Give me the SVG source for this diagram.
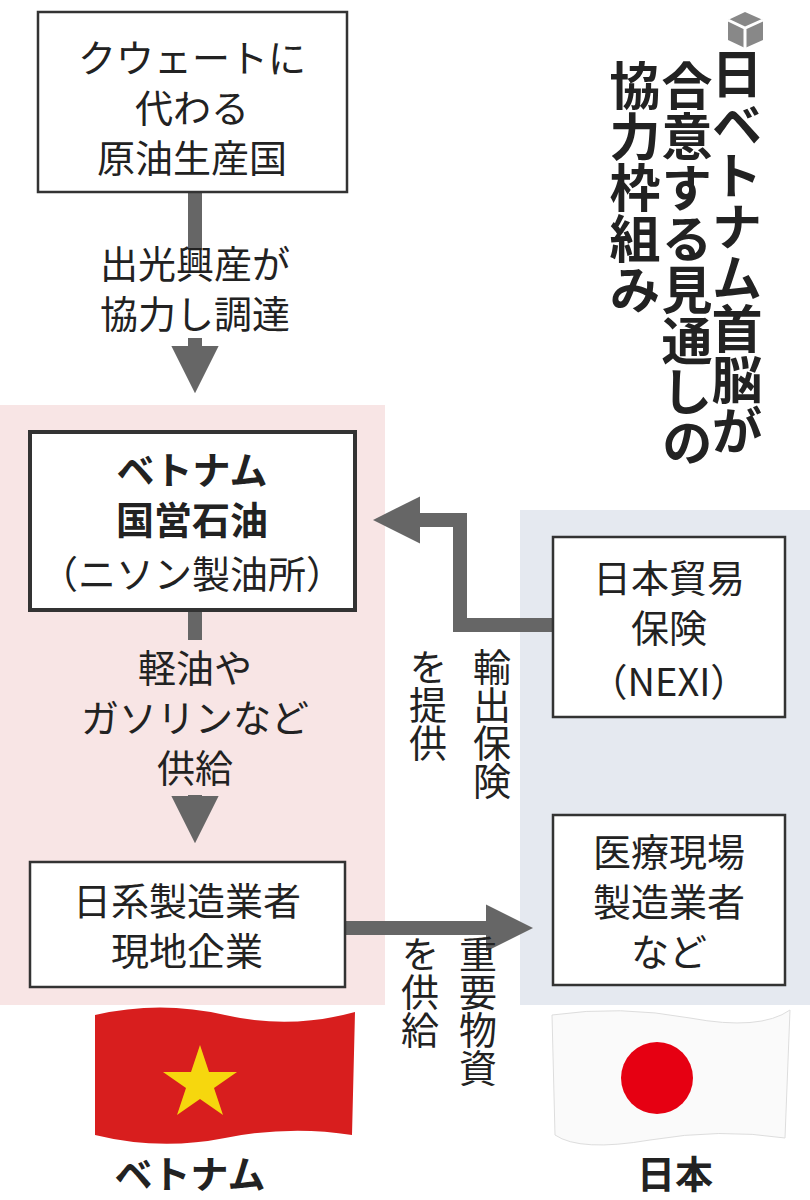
<svg xmlns="http://www.w3.org/2000/svg" width="810" height="1200" viewBox="0 0 810 1200">
<style>
text{font-family:"Noto Sans CJK JP","Noto Sans",sans-serif;fill:#222;font-size:38px;text-anchor:middle}
.b{font-weight:bold}
.v{writing-mode:vertical-rl;text-anchor:start}
.t{font-size:51px;font-weight:bold}
.box{fill:#fff;stroke:#333;stroke-width:2.5}
.ln{fill:none;stroke:#666;stroke-width:14}
</style>
<defs><marker id="ah" markerWidth="3.4" markerHeight="3.4" refX="1.6" refY="1.7" orient="auto" markerUnits="strokeWidth"><path d="M0,0 L3.4,1.7 L0,3.4 Z" fill="#666"/></marker></defs>
<rect x="0" y="405" width="385" height="600" fill="#f8e5e5"/>
<rect x="520" y="510" width="290" height="495" fill="#e5e9f0"/>
<g id="connectors">
<path class="ln" d="M195,192 V250"/>
<path class="ln" d="M195,338 V368" marker-end="url(#ah)"/>
<path class="ln" d="M553,625 H460 V520 H398" marker-end="url(#ah)"/>
<path class="ln" d="M195,610 V640"/>
<path class="ln" d="M195,795 V818" marker-end="url(#ah)"/>
<path class="ln" d="M345,928 H508" marker-end="url(#ah)"/>
<text x="195" y="278">出光興産が</text>
<text x="195" y="328">協力し調達</text>
<text x="195" y="682">軽油や</text>
<text x="195" y="732">ガソリンなど</text>
<text x="195" y="782">供給</text>
<text class="v" x="492" y="648">輸出保険</text>
<text class="v" x="428" y="648">を提供</text>
<text class="v" x="478" y="935">重要物資</text>
<text class="v" x="420" y="935">を供給</text>
</g>
<g id="n1"><rect class="box" x="38" y="12" width="309" height="180"/>
<text x="192" y="72">クウェートに</text><text x="192" y="122">代わる</text><text x="192" y="172">原油生産国</text></g>
<g id="n2"><rect class="box" x="30" y="432" width="325" height="178" style="stroke-width:4"/>
<text class="b" x="192" y="484">ベトナム</text><text class="b" x="192" y="534">国営石油</text><text x="192" y="588">（ニソン製油所）</text></g>
<g id="n3"><rect class="box" x="553" y="537" width="232" height="180"/>
<text x="669" y="592">日本貿易</text><text x="669" y="642">保険</text><text x="669" y="696">（NEXI）</text></g>
<g id="n4"><rect class="box" x="30" y="862" width="315" height="125"/>
<text x="187" y="915">日系製造業者</text><text x="187" y="965">現地企業</text></g>
<g id="n5"><rect class="box" x="553" y="815" width="232" height="170"/>
<text x="669" y="866">医療現場</text><text x="669" y="916">製造業者</text><text x="669" y="966">など</text></g>
<g id="title">
<path d="M728,20 L745,12 L763,20 L763,40 L745,48 L728,40 Z" fill="#888"/>
<path d="M728,20 L745,28 L763,20 M745,28 V48" stroke="#fff" stroke-width="3" fill="none"/>
<text class="v t" x="737" y="48">日ベトナム首脳が</text>
<text class="v t" x="687" y="60">合意する見通しの</text>
<text class="v t" x="635" y="60">協力枠組み</text>
</g>
<g id="flags">
<path d="M95,1015 Q160,1000 225,1015 T355,1012 L352,1135 Q290,1125 225,1138 T95,1135 Z" fill="#d81e1e"/>
<polygon points="200,1045 209,1072 237,1072 214,1088 223,1115 200,1099 177,1115 186,1088 163,1072 191,1072" fill="#f6d70e"/>
<path d="M552,1015 Q620,1005 690,1018 T790,1010 L785,1138 Q720,1128 650,1140 T555,1135 Z" fill="#fafafa" stroke="#ddd"/>
<circle cx="657" cy="1078" r="36" fill="#e60012"/>
<text class="b" x="190" y="1188">ベトナム</text>
<text class="b" x="675" y="1188">日本</text>
</g>
</svg>
